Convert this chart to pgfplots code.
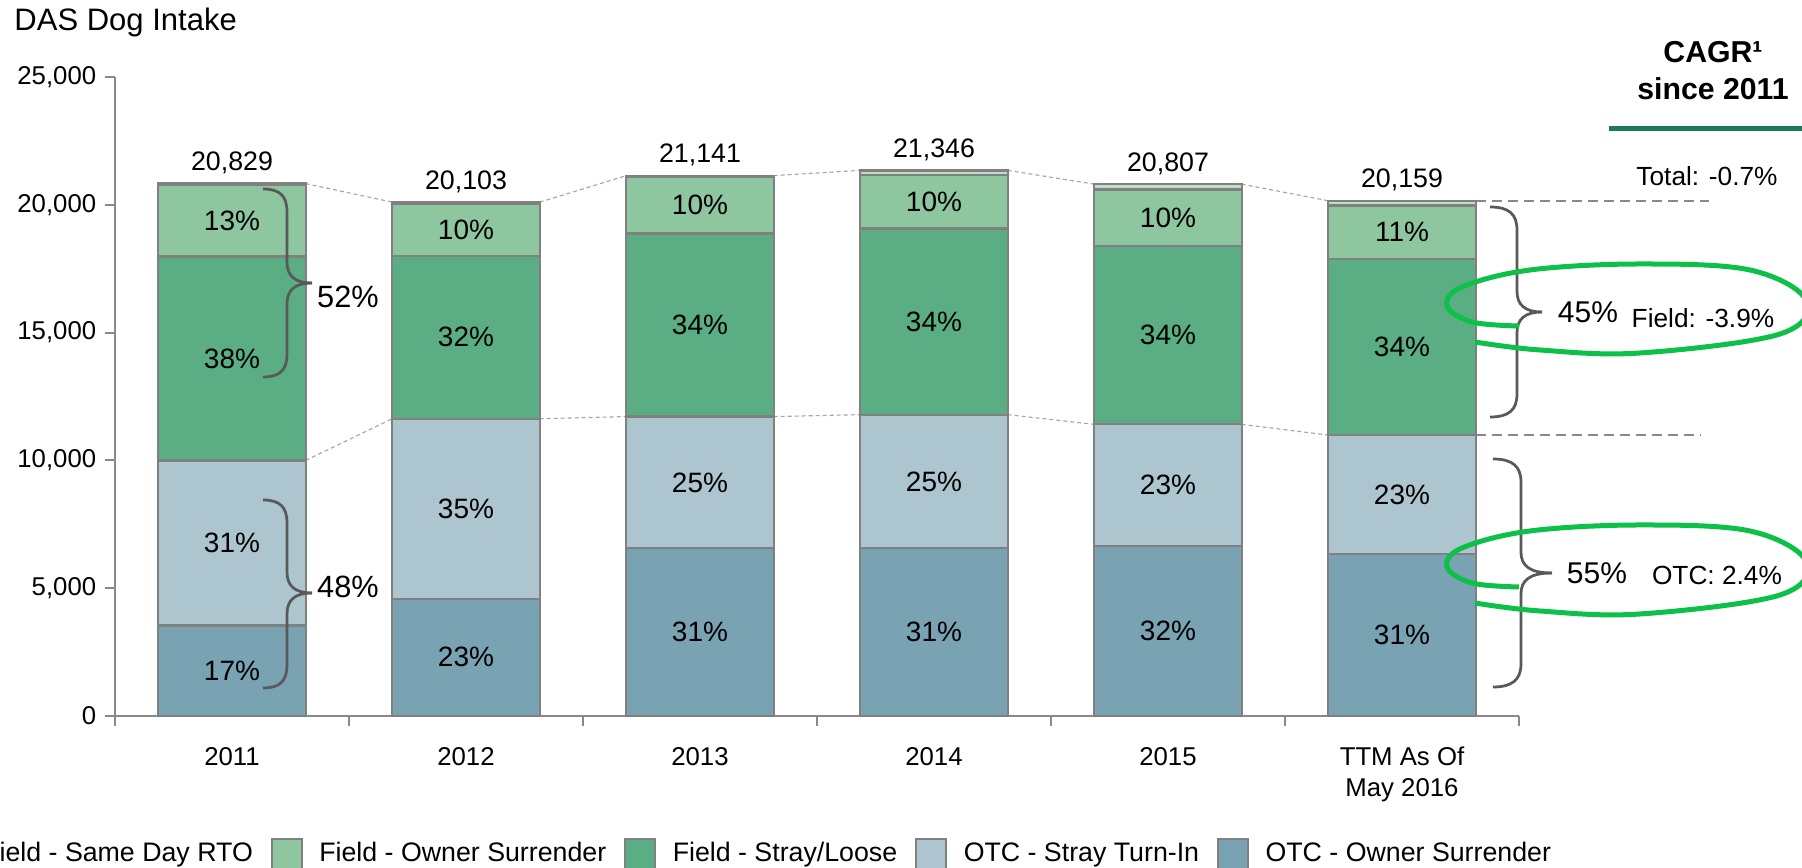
\documentclass[border=0pt]{standalone}
\usepackage{fontspec}
\setmainfont{Liberation Sans}
\usepackage{pgfplots}
\pgfplotsset{compat=1.18}

\definecolor{rto}{RGB}{189,222,199}
\definecolor{fown}{RGB}{141,198,159}
\definecolor{fstray}{RGB}{91,174,131}
\definecolor{ostray}{RGB}{172,197,207}
\definecolor{oown}{RGB}{121,162,179}
\definecolor{bordergray}{RGB}{128,128,128}
\definecolor{axisgray}{RGB}{137,137,137}
\definecolor{conngray}{RGB}{165,165,165}
\definecolor{bracegray}{RGB}{89,89,89}
\definecolor{ellgreen}{RGB}{12,192,72}
\definecolor{cagrgreen}{RGB}{27,122,92}

\tikzset{
  conn/.style={draw=conngray, line width=0.45pt, dash pattern=on 1.6pt off 1.2pt},
  rdash/.style={draw=axisgray, line width=0.8pt, dash pattern=on 4pt off 2.4pt},
  tot/.style={font=\fontsize{10.7}{12}\selectfont, yshift=8.2pt},
  pct/.style={font=\fontsize{11.2}{12}\selectfont},
  brace/.style={draw=bracegray, line width=1.1pt},
}

\begin{document}
\begin{tikzpicture}
\begin{axis}[
  at={(46pt,-286.4pt)}, anchor=south west,
  width=561.6pt, height=255.6pt, scale only axis,
  ybar stacked, bar width=0.63,
  xmin=-0.5, xmax=5.5, ymin=0, ymax=25000,
  axis lines*=left,
  axis line style={draw=axisgray, line width=0.8pt},
  tick align=outside,
  major tick length=4pt,
  tick style={draw=axisgray, line width=0.8pt},
  ytick={0,5000,10000,15000,20000,25000},
  scaled y ticks=false,
  yticklabel style={font=\fontsize{10.3}{12}\selectfont,
    /pgf/number format/1000 sep={,}, /pgf/number format/assume math mode=true},
  xtick={-0.5,0.5,1.5,2.5,3.5,4.5,5.5},
  xticklabels={,,,,,,},
  extra x ticks={0,1,2,3,4,5},
  extra x tick labels={2011,2012,2013,2014,2015,{TTM As Of\\May 2016}},
  extra x tick style={major tick length=0pt},
  xticklabel style={font=\fontsize{10.3}{12.4}\selectfont, align=center, anchor=north, yshift=-9pt},
  clip=false,
  legend columns=5,
  legend style={at={(0.449,-0.216)}, anchor=center, draw=none, fill=none,
    font=\fontsize{10.7}{12}\selectfont,
    /tikz/every even column/.append style={column sep=5.2pt}},
  legend image code/.code={
    \draw[#1,draw=bordergray,line width=0.8pt] (0pt,-6pt) rectangle (12pt,6pt);
    \path[draw=none,fill=none] (0pt,0pt) -- (17pt,0pt);},
]
\addplot[draw=bordergray, line width=0.9pt, fill=oown, forget plot] coordinates {(0,3540) (1,4590) (2,6560) (3,6560) (4,6660) (5,6340)};
\addplot[draw=bordergray, line width=0.9pt, fill=ostray, forget plot] coordinates {(0,6460) (1,7040) (2,5153) (3,5230) (4,4750) (5,4650)};
\addplot[draw=bordergray, line width=0.9pt, fill=fstray, forget plot] coordinates {(0,7975) (1,6370) (2,7163) (3,7280) (4,6980) (5,6890)};
\addplot[draw=bordergray, line width=0.9pt, fill=fown, forget plot] coordinates {(0,2790) (1,2043) (2,2215) (3,2100) (4,2210) (5,2090)};
\addplot[draw=bordergray, line width=0.9pt, fill=rto, forget plot] coordinates {(0,64) (1,60) (2,50) (3,176) (4,207) (5,189)};

\addlegendimage{fill=rto}
\addlegendentry{Field - Same Day RTO}
\addlegendimage{fill=fown}
\addlegendentry{Field - Owner Surrender}
\addlegendimage{fill=fstray}
\addlegendentry{Field - Stray/Loose}
\addlegendimage{fill=ostray}
\addlegendentry{OTC - Stray Turn-In}
\addlegendimage{fill=oown}
\addlegendentry{OTC - Owner Surrender}

\draw[conn] (axis cs:0.315,20829) -- (axis cs:0.685,20103);
\draw[conn] (axis cs:1.315,20103) -- (axis cs:1.685,21141);
\draw[conn] (axis cs:2.315,21141) -- (axis cs:2.685,21346);
\draw[conn] (axis cs:3.315,21346) -- (axis cs:3.685,20807);
\draw[conn] (axis cs:4.315,20807) -- (axis cs:4.685,20159);
\draw[conn] (axis cs:0.315,10000) -- (axis cs:0.685,11630);
\draw[conn] (axis cs:1.315,11630) -- (axis cs:1.685,11713);
\draw[conn] (axis cs:2.315,11713) -- (axis cs:2.685,11790);
\draw[conn] (axis cs:3.315,11790) -- (axis cs:3.685,11410);
\draw[conn] (axis cs:4.315,11410) -- (axis cs:4.685,10990);
\draw[rdash] (axis cs:5.315,20159) -- (axis cs:6.312,20159);
\draw[rdash] (axis cs:5.315,10990) -- (axis cs:6.274,10990);

\node[tot] at (axis cs:0,20829) {20,829};
\node[tot] at (axis cs:1,20103) {20,103};
\node[tot] at (axis cs:2,21141) {21,141};
\node[tot] at (axis cs:3,21346) {21,346};
\node[tot] at (axis cs:4,20807) {20,807};
\node[tot] at (axis cs:5,20159) {20,159};

\coordinate (a0) at (axis cs:0,1770);
\coordinate (b0) at (axis cs:0,6770);
\coordinate (c0) at (axis cs:0,13987);
\coordinate (d0) at (axis cs:0,19370);
\coordinate (a1) at (axis cs:1,2295);
\coordinate (b1) at (axis cs:1,8110);
\coordinate (c1) at (axis cs:1,14815);
\coordinate (d1) at (axis cs:1,19021);
\coordinate (a2) at (axis cs:2,3280);
\coordinate (b2) at (axis cs:2,9137);
\coordinate (c2) at (axis cs:2,15295);
\coordinate (d2) at (axis cs:2,19984);
\coordinate (a3) at (axis cs:3,3280);
\coordinate (b3) at (axis cs:3,9175);
\coordinate (c3) at (axis cs:3,15430);
\coordinate (d3) at (axis cs:3,20120);
\coordinate (a4) at (axis cs:4,3330);
\coordinate (b4) at (axis cs:4,9035);
\coordinate (c4) at (axis cs:4,14900);
\coordinate (d4) at (axis cs:4,19495);
\coordinate (a5) at (axis cs:5,3170);
\coordinate (b5) at (axis cs:5,8665);
\coordinate (c5) at (axis cs:5,14435);
\coordinate (d5) at (axis cs:5,18925);
\end{axis}

\node[pct] at (a0) {17\%};
\node[pct] at (b0) {31\%};
\node[pct] at (c0) {38\%};
\node[pct] at (d0) {13\%};
\node[pct] at (a1) {23\%};
\node[pct] at (b1) {35\%};
\node[pct] at (c1) {32\%};
\node[pct] at (d1) {10\%};
\node[pct] at (a2) {31\%};
\node[pct] at (b2) {25\%};
\node[pct] at (c2) {34\%};
\node[pct] at (d2) {10\%};
\node[pct] at (a3) {31\%};
\node[pct] at (b3) {25\%};
\node[pct] at (c3) {34\%};
\node[pct] at (d3) {10\%};
\node[pct] at (a4) {32\%};
\node[pct] at (b4) {23\%};
\node[pct] at (c4) {34\%};
\node[pct] at (d4) {10\%};
\node[pct] at (a5) {31\%};
\node[pct] at (b5) {23\%};
\node[pct] at (c5) {34\%};
\node[pct] at (d5) {11\%};

\begin{scope}[x=0.4pt,y=-0.4pt]
\node[anchor=west, font=\fontsize{12.4}{14}\selectfont, inner sep=0pt] at (14,22) {DAS Dog Intake};
\node[font=\bfseries\fontsize{12.1}{14}\selectfont] at (1713,52) {CAGR¹};
\node[font=\bfseries\fontsize{12.1}{14}\selectfont] at (1713,89) {since 2011};
\draw[cagrgreen, line width=2pt] (1609,129) -- (1802,129);
\node[font=\fontsize{10.5}{12}\selectfont] at (1707,176) {Total: -0.7\%};

\draw[brace] (263,189) .. controls (280,189) and (287,196) .. (287,212) -- (287,262)
      .. controls (287,276) and (295,283) .. (312,283);
\draw[brace] (312,283) .. controls (295,283) and (287,290) .. (287,304) -- (287,354)
      .. controls (287,370) and (280,377) .. (263,377);
\draw[brace] (263,500) .. controls (280,500) and (287,507) .. (287,523) -- (287,572)
      .. controls (287,586) and (295,593) .. (312,593);
\draw[brace] (312,593) .. controls (295,593) and (287,600) .. (287,614) -- (287,665)
      .. controls (287,681) and (280,688) .. (263,688);
\draw[brace] (1490,207) .. controls (1509,207) and (1517,214) .. (1517,230) -- (1517,291)
      .. controls (1517,305) and (1525,312) .. (1542,312);
\draw[brace] (1542,312) .. controls (1525,312) and (1517,319) .. (1517,333) -- (1517,394)
      .. controls (1517,410) and (1509,417) .. (1490,417);
\draw[brace] (1493,459) .. controls (1512,459) and (1521,466) .. (1521,482) -- (1521,552)
      .. controls (1521,566) and (1530,573) .. (1552,573);
\draw[brace] (1552,573) .. controls (1530,573) and (1521,580) .. (1521,594) -- (1521,664)
      .. controls (1521,680) and (1512,687) .. (1493,687);

\node[font=\fontsize{12.3}{14}\selectfont] at (348,297) {52\%};
\node[font=\fontsize{12.3}{14}\selectfont] at (348,587) {48\%};
\node[font=\fontsize{12}{14}\selectfont] at (1588,312) {45\%};
\node[font=\fontsize{10.5}{12}\selectfont] at (1703,318) {Field: -3.9\%};
\node[font=\fontsize{12}{14}\selectfont] at (1597,573) {55\%};
\node[font=\fontsize{10.5}{12}\selectfont] at (1717,575) {OTC: 2.4\%};

\draw[ellgreen, line width=2pt] plot[smooth, tension=0.6] coordinates {
  (1519,326) (1472,322) (1447,306) (1462,287) (1530,270) (1640,264)
  (1750,270) (1806,300) (1780,334) (1640,353) (1540,350) (1475,342)};
\draw[ellgreen, line width=2pt] plot[smooth, tension=0.6] coordinates {
  (1519,587) (1472,583) (1447,567) (1462,548) (1530,531) (1640,525)
  (1750,531) (1806,561) (1780,595) (1640,614) (1540,611) (1475,603)};
\end{scope}

\pgfresetboundingbox
\useasboundingbox (0pt,0pt) rectangle (720.8pt,-347.2pt);
\end{tikzpicture}
\end{document}
